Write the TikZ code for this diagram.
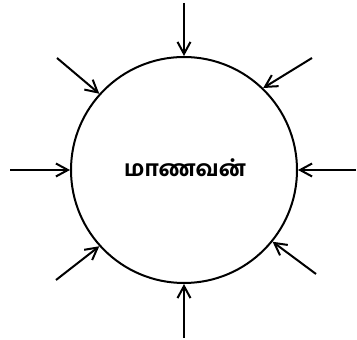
\documentclass[tikz,border=0pt]{standalone}
\usepackage{fontspec}
\newfontfamily\tamilfont[Script=Tamil]{Hind Madurai Bold}
\usetikzlibrary{arrows.meta}
\tikzset{
  inarrow/.style={line width=2pt,-{Straight Barb[length=12pt,width=13pt,line width=2pt]}},
  bigcircle/.style={draw,circle,line width=2pt,minimum size=226pt,inner sep=0pt}
}
\begin{document}
\begin{tikzpicture}[x=1pt,y=1pt]
\useasboundingbox (0,0) rectangle (357,340);
\node[bigcircle] (c) at (184,170) {};
\node[font=\tamilfont\fontsize{22}{26}\selectfont] (t) at (185,172) {மாணவன்};
\coordinate (n)  at (184,337);
\coordinate (s)  at (184,2);
\coordinate (w)  at (10,170);
\coordinate (e)  at (356,170);
\coordinate (nw) at (57,282);
\coordinate (ne) at (312,282);
\coordinate (sw) at (56,60);
\coordinate (se) at (316,66);
\draw[inarrow] (n) -- (c.90);
\draw[inarrow] (s) -- (c.270);
\draw[inarrow] (w) -- (c.180);
\draw[inarrow] (e) -- (c.0);
\draw[inarrow] (nw) -- (c.138.7);
\draw[inarrow] (ne) -- (c.46.3);
\draw[inarrow] (sw) -- (c.222.4);
\draw[inarrow] (se) -- (c.321.3);
\end{tikzpicture}
\end{document}
